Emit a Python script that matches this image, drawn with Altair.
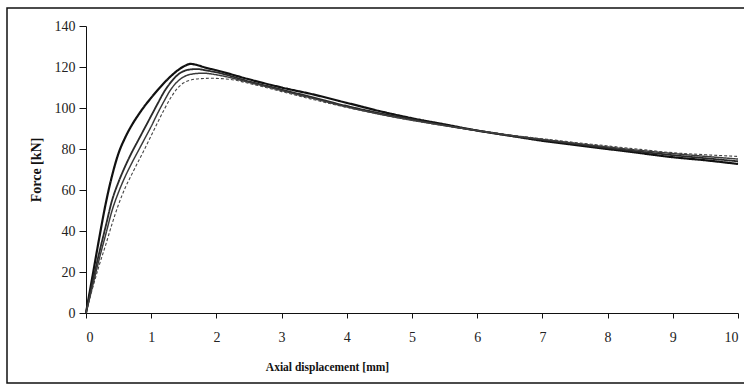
import altair as alt
import pandas as pd

# Force–displacement curves for four specimens (kN vs mm)
x_a = [0, 0.1, 0.2, 0.3, 0.4, 0.5, 0.6, 0.7, 0.8, 0.9, 1.0, 1.1, 1.2, 1.3, 1.4, 1.5, 1.6, 1.7, 1.8, 2.0, 2.5, 3.0, 3.5, 4.0, 4.5, 5.0, 5.5, 6.0, 6.5, 7.0, 7.5, 8.0, 8.5, 9.0, 9.5, 10.0]
f_a = [0, 18, 36, 53, 67, 78, 85.5, 91.5, 96.5, 101, 105, 108.8, 112.3, 115.5, 118.2, 120.3, 121.5, 121, 120, 118.4, 114, 110, 106.5, 102.5, 98.5, 95, 92, 89, 86.5, 84, 82, 80, 78, 76, 74.5, 72.7]

x_b = [0, 0.1, 0.2, 0.3, 0.4, 0.5, 0.6, 0.7, 0.8, 0.9, 1.0, 1.1, 1.2, 1.3, 1.4, 1.5, 1.6, 1.7, 1.85, 2.0, 2.5, 3.0, 3.5, 4.0, 4.5, 5.0, 5.5, 6.0, 6.5, 7.0, 7.5, 8.0, 8.5, 9.0, 9.5, 10.0]
f_b = [0, 15, 29, 42, 55, 64, 71.5, 78.2, 84.2, 90.2, 96.2, 102.2, 108, 112.5, 116, 118, 118.8, 119, 118.3, 117.4, 113, 109, 105, 101, 97.5, 94.5, 91.5, 89, 86.5, 84.5, 82.5, 80.5, 78.7, 77, 75.5, 74]

x_c = [0, 0.1, 0.2, 0.3, 0.4, 0.5, 0.6, 0.7, 0.8, 0.9, 1.0, 1.1, 1.2, 1.3, 1.4, 1.5, 1.6, 1.8, 2.0, 2.5, 3.0, 3.5, 4.0, 4.5, 5.0, 5.5, 6.0, 6.5, 7.0, 7.5, 8.0, 8.5, 9.0, 9.5, 10.0]
f_c = [0, 13, 26, 38, 50, 59, 66.5, 73, 79, 85, 91, 97.5, 103.5, 109, 112.8, 115.2, 116.4, 117, 116.2, 112.5, 108.5, 104.5, 100.5, 97, 94, 91.5, 89, 86.7, 84.7, 82.8, 81, 79.3, 77.8, 76.4, 75.1]

x_d = [0, 0.1, 0.2, 0.3, 0.4, 0.5, 0.6, 0.7, 0.8, 0.9, 1.0, 1.1, 1.2, 1.3, 1.4, 1.5, 1.6, 1.75, 1.9, 2.2, 2.5, 3.0, 3.5, 4.0, 4.5, 5.0, 5.5, 6.0, 6.5, 7.0, 7.5, 8.0, 8.5, 9.0, 9.5, 10.0]
f_d = [0, 12, 23, 33, 43.5, 53, 61, 67.5, 73.8, 80, 86.5, 93, 99.3, 105, 109.5, 112.3, 113.6, 114.3, 114.5, 114, 112, 108, 104, 100.3, 97, 94, 91.3, 89, 86.8, 85, 83.2, 81.5, 79.8, 78.2, 77.2, 76.4]

series = ["A", "B", "C", "D"]
rows = []
for name, xs, fs in zip(series, [x_a, x_b, x_c, x_d], [f_a, f_b, f_c, f_d]):
    for i, (x, f) in enumerate(zip(xs, fs)):
        rows.append({"series": name, "disp": x, "force": f, "order": i})
df = pd.DataFrame(rows)

W, H = 652, 287
serif = "Times New Roman, Liberation Serif, serif"

lines = alt.Chart(df).mark_line(interpolate="monotone").encode(
    x=alt.X("disp:Q",
            scale=alt.Scale(domain=[0, 10], nice=False),
            axis=alt.Axis(values=list(range(0, 11)), title="Axial displacement [mm]",
                          grid=False, tickSize=5, labelPadding=12,
                          titleX=241, titleY=57, titleAlign="center",
                          titleBaseline="alphabetic", titleFontSize=11.5)),
    y=alt.Y("force:Q",
            scale=alt.Scale(domain=[0, 140], nice=False),
            axis=alt.Axis(values=list(range(0, 141, 20)), title="Force [kN]",
                          grid=False, tickSize=7, labelPadding=4,
                          titleX=-50, titleY=H / 2, titleAlign="center",
                          titleBaseline="middle", titleAngle=270, titleFontSize=14)),
    detail="series:N",
    order="order:Q",
    color=alt.Color("series:N", legend=None,
                    scale=alt.Scale(domain=series, range=["#111111", "#2a2a2a", "#3a3a3a", "#444444"])),
    strokeWidth=alt.StrokeWidth("series:N", legend=None,
                                scale=alt.Scale(domain=series, range=[2.2, 1.1, 1.1, 1.1])),
    strokeDash=alt.StrokeDash("series:N", legend=None,
                              scale=alt.Scale(domain=series, range=[[1, 0], [1, 0], [1, 0], [3, 2]])),
)

# Outer frame around the whole figure (right edge runs past the page)
frame = alt.Chart(pd.DataFrame({"k": [0]})).mark_rect(
    fill=None, stroke="#111111", strokeWidth=1.5
).encode(
    x=alt.value(-79), x2=alt.value(700),
    y=alt.value(-18), y2=alt.value(357),
)

chart = alt.layer(lines, frame).properties(
    width=W, height=H,
    autosize=alt.AutoSizeParams(type="none"),
    padding={"left": 86, "top": 26, "right": 6, "bottom": 74},
    background="white",
).configure_view(stroke=None).configure_axis(
    domainColor="#111111", tickColor="#111111", domainWidth=1, tickWidth=1,
    labelFont=serif, labelFontSize=14, labelColor="#222222",
    titleFont=serif, titleFontWeight="bold", titleColor="#111111",
)

chart.save("out.html", embed_options={"renderer": "svg", "actions": False})
